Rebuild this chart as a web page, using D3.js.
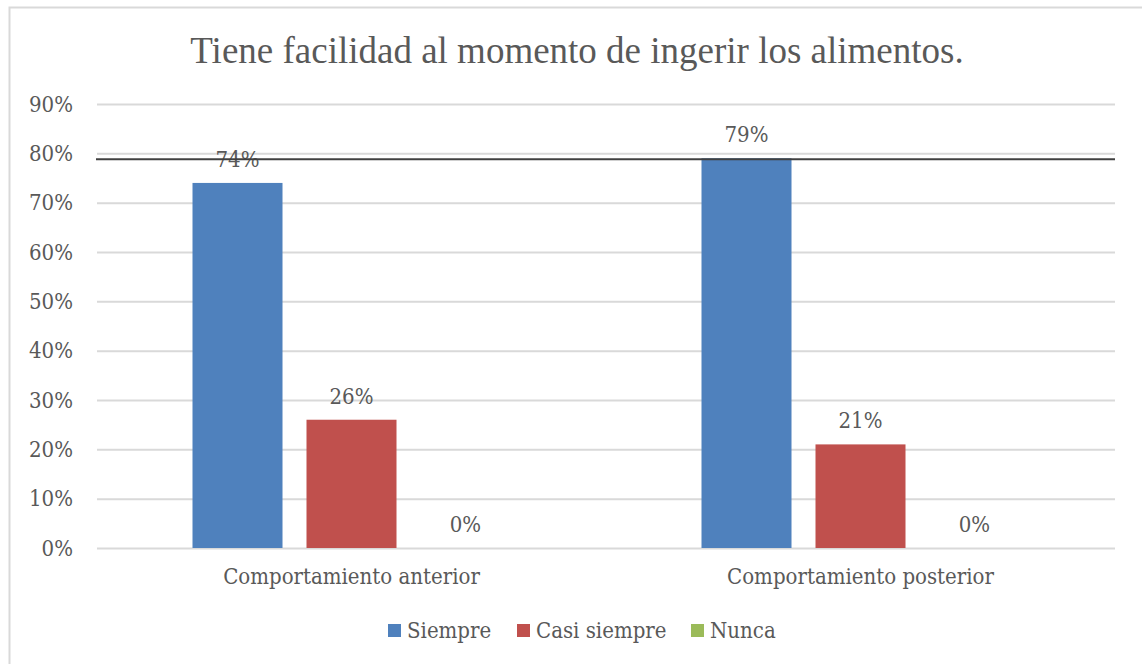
<!DOCTYPE html>
<html>
<head>
<meta charset="utf-8">
<script src="https://cdn.jsdelivr.net/npm/d3@7"></script>
<style>
  body { margin: 0; background: #fff; }
  text { fill: #595959; }
</style>
</head>
<body>
<script>
const categories = ['Comportamiento anterior', 'Comportamiento posterior'];
const series = ['Siempre', 'Casi siempre', 'Nunca'];
const siempre = [0.74, 0.79];
const casiSiempre = [0.26, 0.21];
const nunca = [0, 0];
const yTicks = [0, 0.1, 0.2, 0.3, 0.4, 0.5, 0.6, 0.7, 0.8, 0.9];
const refLine = 0.788;   // the dark line drawn across the chart
const colors = ['#4f81bd', '#c0504d', '#9bbb59'];

const width = 1142, height = 664;
const plot = { left: 97, right: 1115, top: 104, bottom: 548 };
const bodyFont = '"DejaVu Serif Condensed", "DejaVu Serif", serif';

const svg = d3.select('body').append('svg')
    .attr('width', width)
    .attr('height', height);

// chart border
svg.append('rect')
    .attr('x', 9.5).attr('y', 7.5)
    .attr('width', width).attr('height', height)
    .attr('fill', 'none')
    .attr('stroke', '#d9d9d9')
    .attr('stroke-width', 2);

// title
svg.append('text')
    .attr('x', 577).attr('y', 63)
    .attr('text-anchor', 'middle')
    .style('font-family', '"Liberation Serif", serif')
    .style('font-size', '37px')
    .text('Tiene facilidad al momento de ingerir los alimentos.');

const y = d3.scaleLinear().domain([0, 0.9]).range([plot.bottom, plot.top]);
const x0 = d3.scaleBand().domain(categories).range([plot.left, plot.right]);
const outer = (x0.bandwidth() - 318) / 2;
const x1 = d3.scaleBand().domain(series)
    .range([outer, x0.bandwidth() - outer])
    .paddingInner(0.2105);

// gridlines + tick labels
const yAxis = d3.axisLeft(y)
    .tickValues(yTicks)
    .tickFormat(d3.format('.0%'))
    .tickSize(-(plot.right - plot.left))
    .tickPadding(24);

svg.append('g')
    .attr('transform', `translate(${plot.left},0)`)
    .call(yAxis)
    .call(g => g.select('.domain').remove())
    .call(g => g.selectAll('.tick line').attr('stroke', '#d9d9d9').attr('stroke-width', 2))
    .call(g => g.selectAll('.tick text')
        .style('font-family', bodyFont)
        .style('font-size', '22px')
        .attr('fill', '#595959'));

const data = categories.map((c, i) => ({
    category: c,
    values: [siempre[i], casiSiempre[i], nunca[i]].map((v, j) => ({ key: series[j], value: v, color: colors[j] }))
}));

const groups = svg.append('g').selectAll('g')
    .data(data)
    .join('g')
    .attr('transform', d => `translate(${x0(d.category)},0)`);

groups.selectAll('rect')
    .data(d => d.values)
    .join('rect')
    .attr('x', d => x1(d.key))
    .attr('y', d => y(d.value))
    .attr('width', x1.bandwidth())
    .attr('height', d => y(0) - y(d.value))
    .attr('fill', d => d.color);

groups.selectAll('text.label')
    .data(d => d.values)
    .join('text')
    .attr('class', 'label')
    .attr('x', d => x1(d.key) + x1.bandwidth() / 2)
    .attr('y', d => y(d.value) - 16)
    .attr('text-anchor', 'middle')
    .style('font-family', bodyFont)
    .style('font-size', '22px')
    .text(d => d3.format('.0%')(d.value));

// reference line
svg.append('line')
    .attr('x1', plot.left - 1).attr('x2', plot.right)
    .attr('y1', y(refLine)).attr('y2', y(refLine))
    .attr('stroke', '#404040')
    .attr('stroke-width', 2);

// category labels
svg.append('g').selectAll('text')
    .data(categories)
    .join('text')
    .attr('x', d => x0(d) + x0.bandwidth() / 2)
    .attr('y', 584)
    .attr('text-anchor', 'middle')
    .style('font-family', bodyFont)
    .style('font-size', '22px')
    .text(d => d);

// legend
const legendX = [388, 517, 691];
const legend = svg.append('g').selectAll('g')
    .data(series)
    .join('g')
    .attr('transform', (d, i) => `translate(${legendX[i]},624)`);

legend.append('rect')
    .attr('width', 13).attr('height', 13)
    .attr('fill', (d, i) => colors[i]);

legend.append('text')
    .attr('x', 19).attr('y', 14)
    .style('font-family', bodyFont)
    .style('font-size', '22px')
    .text(d => d);
</script>
</body>
</html>
